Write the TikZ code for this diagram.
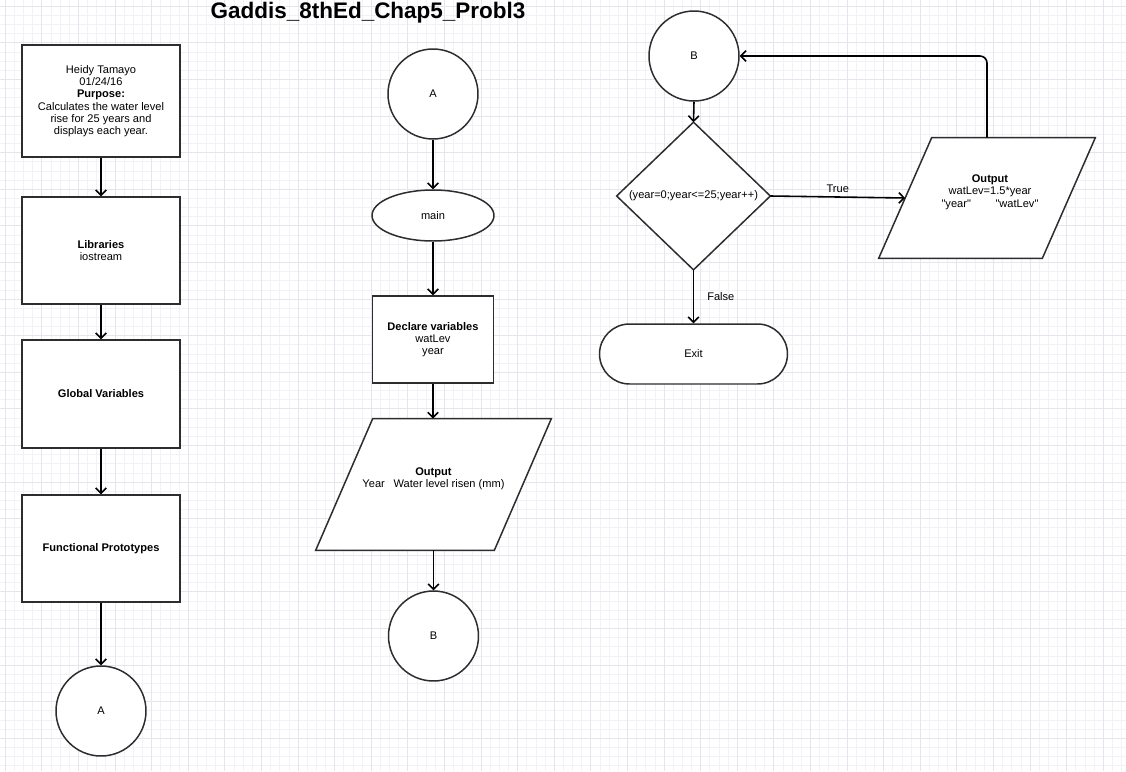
\documentclass[tikz,border=0pt]{standalone}
\usepackage{fontspec}
\setmainfont{Liberation Sans}
\newfontfamily\rawfont{Liberation Sans}
\usetikzlibrary{shapes.geometric,arrows.meta,calc}
\definecolor{gridminor}{RGB}{241,241,247}
\definecolor{gridmajor}{RGB}{229,229,239}
\definecolor{shapeline}{RGB}{45,45,45}
\begin{document}
\begin{tikzpicture}[x=0.02cm,y=-0.02cm,
  every node/.style={font=\fontsize{6.3}{7}\selectfont, align=center, inner sep=0pt},
  outline/.style={draw=shapeline, line width=0.85pt, fill=white},
  box/.style={outline, rectangle, minimum width=3.16cm},
  term/.style={outline, circle, minimum size=1.8cm},
  ghost/.style={rectangle, inner sep=0pt},
  conn/.style={draw=black, line width=0.9pt, -{Straight Barb[length=3pt,width=6pt]}},
  lbl/.style={font=\fontsize{6.3}{7}\selectfont}
]
% background and grid
\fill[white] (0,0) rectangle (1126,771);
\useasboundingbox (0,0) rectangle (1126,771);
\foreach \i in {0,...,122}{
  \pgfmathsetmacro\gx{5.2+9.15*\i}
  \draw[gridminor, line width=0.4pt] (\gx,0) -- (\gx,771);
}
\foreach \i in {0,...,84}{
  \pgfmathsetmacro\gy{6.2+9.15*\i}
  \draw[gridminor, line width=0.4pt] (0,\gy) -- (1126,\gy);
}
\foreach \i in {0,4,...,120}{
  \pgfmathsetmacro\gx{5.2+9.15*\i}
  \draw[gridmajor, line width=0.4pt] (\gx,0) -- (\gx,771);
}
\foreach \i in {0,4,...,84}{
  \pgfmathsetmacro\gy{6.2+9.15*\i}
  \draw[gridmajor, line width=0.4pt] (0,\gy) -- (1126,\gy);
}

% title
\node[font=\bfseries\fontsize{12.8}{14}\selectfont] (title) at (368,13) {Gaddis\_8thEd\_Chap5\_Probl3};

% left column
\node[box, minimum height=2.24cm] (info) at (101,101) {Heidy Tamayo\\01/24/16\\\textbf{Purpose:}\\Calculates the water level\\rise for 25 years and\\displays each year.};
\node[box, minimum height=2.14cm] (libs) at (101,250.5) {\textbf{Libraries}\\iostream};
\node[box, minimum height=2.16cm] (glob) at (101,394) {\textbf{Global Variables}};
\node[box, minimum height=2.14cm] (proto) at (101,548.5) {\textbf{Functional Prototypes}};
\node[term] (A1) at (101,711) {A};

\draw[conn] (info.south) -- (libs.north);
\draw[conn] (libs.south) -- (glob.north);
\draw[conn] (glob.south) -- (proto.north);
\draw[conn] (proto.south) -- (A1.north);

% middle column
\node[term] (A2) at (433,94) {A};
\node[outline, ellipse, minimum width=2.44cm, minimum height=1.02cm] (main) at (433,215.5) {main};
\node[box, minimum width=2.42cm, minimum height=1.74cm] (decl) at (433,339.5) {\textbf{Declare variables}\\watLev\\year};
\node[ghost, minimum width=4.7cm, minimum height=2.62cm] (out1) at (433.5,484.5) {};
\draw[outline] (out1.south west) -- ($(out1.north west)+(57,0)$) -- (out1.north east) -- ($(out1.south east)-(57,0)$) -- cycle;
\node (out1txt) at (433.5,478.5) {\textbf{Output}\\Year\hspace{5pt}Water level risen (mm)};
\node[term] (B1) at (433.5,636) {B};

\draw[conn] (A2.south) -- (main.north);
\draw[conn] (main.south) -- (decl.north);
\draw[conn] (decl.south) -- (decl.south |- out1.north);
\draw[conn] (out1.south) -- (B1.north);

% right part
\node[term] (B2) at (694,56) {B};
\node[ghost, minimum width=3.06cm, minimum height=2.94cm] (loop) at (693.5,196) {};
\draw[outline] (loop.north) -- (loop.east) -- (loop.south) -- (loop.west) -- cycle;
\node (looptxt) at (693.5,196) {(year=0;year<=25;year++)};
\node[outline, rectangle, rounded corners=0.6cm, minimum width=3.76cm, minimum height=1.2cm] (exit) at (693.5,354) {Exit};
\node[ghost, minimum width=4.32cm, minimum height=2.4cm] (out2) at (987,198) {};
\draw[outline] (out2.south west) -- ($(out2.north west)+(53,0)$) -- (out2.north east) -- ($(out2.south east)-(53,0)$) -- cycle;
\coordinate (out2in) at ($(out2.west)+(26.5,0)$);
\node (out2txt) at (990,192) {\textbf{Output}\\watLev=1.5*year\\{\rawfont"year"}\hspace{14pt}{\rawfont"watLev"}};

\draw[conn] (B2.south) -- (loop.north);
\draw[conn] (loop.east) -- node[lbl, midway, above=2pt] {True} (out2in);
\draw[conn] (loop.south) -- node[lbl, midway, right=0.26cm] {False} (exit.north);
\draw[conn, rounded corners=4pt] (out2.north) |- (B2.east);
\end{tikzpicture}
\end{document}
